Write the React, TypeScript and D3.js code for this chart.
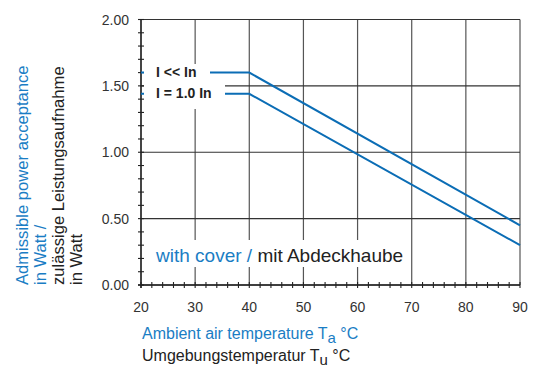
import React from "react";
import * as d3 from "d3";

const temps = [20, 40, 90];
const seriesLow = [1.6, 1.6, 0.45];
const seriesRated = [1.44, 1.44, 0.3];
const seriesNames = ["I << In", "I = 1.0 In"];
const xTicks = [20, 30, 40, 50, 60, 70, 80, 90];
const yTicks = [0, 0.5, 1.0, 1.5, 2.0];

const W = 541;
const H = 367;
const left = 141;
const right = 520;
const top = 19.5;
const bottom = 285;

const BLUE_LINE = "#0b6db5";
const BLUE_TEXT = "#1a7dc4";
const DARK = "#222";
const FONT = "'Liberation Sans', Arial, Helvetica, sans-serif";

export default function App() {
  const x = d3.scaleLinear().domain([20, 90]).range([left, right]);
  const y = d3.scaleLinear().domain([0, 2]).range([bottom, top]);
  const line = d3
    .line<number>()
    .x((_, i) => x(temps[i]))
    .y((d) => y(d));
  const minorY = d3.range(0, 2.0001, 0.1);
  const minorX = d3.range(20, 90.001, 2);

  return (
    <svg
      width={W}
      height={H}
      style={{ position: "absolute", left: 0, top: 0, background: "#fff" }}
      fontFamily={FONT}
    >
      <rect width={W} height={H} fill="#fff" />
      {/* vertical grid */}
      {xTicks.map((t) => (
        <line key={"gx" + t} x1={x(t)} x2={x(t)} y1={y(2)} y2={y(0)} stroke="#555" strokeWidth={1.2} />
      ))}
      {/* horizontal grid */}
      {yTicks.map((t) => (
        <line key={"gy" + t} x1={x(20)} x2={x(90)} y1={y(t)} y2={y(t)} stroke="#333" strokeWidth={1.1} />
      ))}
      {/* minor ticks */}
      {minorY.map((t, i) => (
        <line key={"my" + i} x1={left - 3} x2={left + 3} y1={y(t)} y2={y(t)} stroke="#222" strokeWidth={1.1} />
      ))}
      {minorX.map((t, i) => (
        <line key={"mx" + i} x1={x(t)} x2={x(t)} y1={bottom - 3} y2={bottom + 3} stroke="#222" strokeWidth={1.1} />
      ))}
      {/* axes */}
      <line x1={left} x2={left} y1={top} y2={bottom + 3} stroke="#222" strokeWidth={1.4} />
      <line x1={left - 3} x2={right} y1={bottom} y2={bottom} stroke="#222" strokeWidth={1.4} />

      {/* series lines */}
      <path d={line(seriesLow) || ""} fill="none" stroke={BLUE_LINE} strokeWidth={2} />
      <path d={line(seriesRated) || ""} fill="none" stroke={BLUE_LINE} strokeWidth={2} />

      {/* legend label boxes */}
      <rect x={left + 3} y={64} width={66} height={17} fill="#fff" />
      <rect x={left + 3} y={81} width={81} height={28} fill="#fff" />
      <text x={156} y={76.5} fontSize={14} fontWeight="bold" fill={DARK}>
        {seriesNames[0]}
      </text>
      <text x={156} y={97.5} fontSize={14} fontWeight="bold" fill={DARK}>
        {seriesNames[1]}
      </text>

      {/* with cover label */}
      <rect x={152} y={240} width={258} height={27} fill="#fff" />
      <text x={156} y={261.5} fontSize={19}>
        <tspan fill={BLUE_TEXT}>with cover / </tspan>
        <tspan fill={DARK}>mit Abdeckhaube</tspan>
      </text>

      {/* y tick labels */}
      {yTicks.map((t) => (
        <text key={"yl" + t} x={129} y={y(t) + 5} fontSize={14} textAnchor="end" fill="#333">
          {t.toFixed(2)}
        </text>
      ))}
      {/* x tick labels */}
      {xTicks.map((t) => (
        <text key={"xl" + t} x={x(t)} y={312} fontSize={14} textAnchor="middle" fill="#333">
          {t}
        </text>
      ))}

      {/* y axis title */}
      <g transform={`translate(0, ${bottom}) rotate(-90)`} fontSize={16.6}>
        <text x={0} y={28} fill={BLUE_TEXT}>Admissible power acceptance</text>
        <text x={0} y={46} fill={BLUE_TEXT}>in Watt /</text>
        <text x={0} y={64} fill={DARK}>zulässige Leistungsaufnahme</text>
        <text x={0} y={82} fill={DARK}>in Watt</text>
      </g>

      {/* x axis title */}
      <text x={142} y={339} fontSize={16} fill={BLUE_TEXT}>
        Ambient air temperature T<tspan dy={4} fontSize={15}>a</tspan>
        <tspan dy={-4}> °C</tspan>
      </text>
      <text x={142} y={361} fontSize={16} fill={DARK}>
        Umgebungstemperatur T<tspan dy={4} fontSize={15}>u</tspan>
        <tspan dy={-4}> °C</tspan>
      </text>
    </svg>
  );
}
